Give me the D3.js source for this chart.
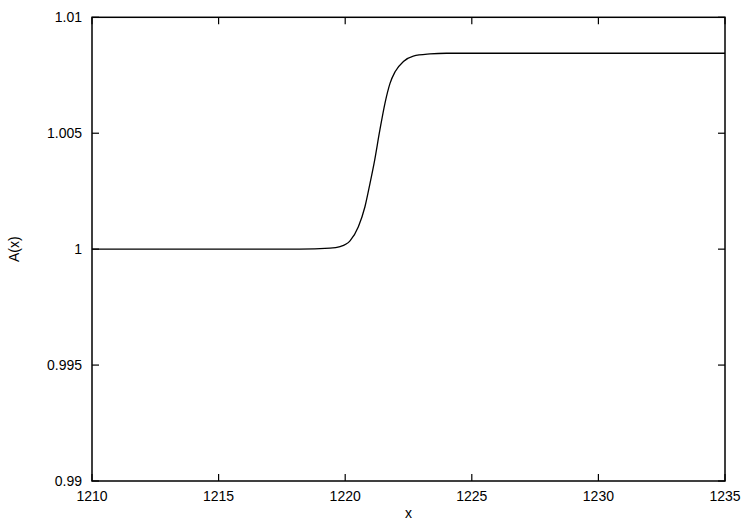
<!DOCTYPE html>
<html>
<head>
<meta charset="utf-8">
<script src="https://cdn.jsdelivr.net/npm/d3@7"></script>
<style>
html,body{margin:0;padding:0;background:#fff;}
svg{display:block;}
text{font-family:"Liberation Sans",Arial,Helvetica,sans-serif;font-size:14px;fill:#000;}
</style>
</head>
<body>
<svg id="chart" width="750" height="525"></svg>
<script>
// Data
const xValues = [1210, 1215, 1218.2, 1219.4, 1219.8, 1220.19, 1220.52, 1220.78, 1220.98, 1221.14, 1221.37, 1221.57, 1221.77, 1221.97, 1222.3, 1222.69, 1223.35, 1224, 1230, 1235];
const yValues = [1.0, 1.0, 1.0, 1.00004, 1.00011, 1.00036, 1.00097, 1.00183, 1.00284, 1.0037, 1.00514, 1.00629, 1.00715, 1.00765, 1.00809, 1.00833, 1.00842, 1.00845, 1.00845, 1.00845];
const xTicks = [1210, 1215, 1220, 1225, 1230, 1235];
const yTicks = [0.99, 0.995, 1.0, 1.005, 1.01];
const yTickLabels = ["0.99", "0.995", "1", "1.005", "1.01"];
const xLabel = "x";
const yLabel = "A(x)";

const svg = d3.select("#chart");
const L = 92, R = 725, T = 17.3, B = 481;
const x = d3.scaleLinear().domain([1210, 1235]).range([L, R]);
const y = d3.scaleLinear().domain([0.99, 1.01]).range([B, T]);
const tickLen = 7;

// ticks (inward, mirrored)
const g = svg.append("g").attr("stroke", "#000").attr("stroke-width", 1.2);
xTicks.forEach(t => {
  g.append("line").attr("x1", x(t)).attr("x2", x(t)).attr("y1", B).attr("y2", B - tickLen);
  g.append("line").attr("x1", x(t)).attr("x2", x(t)).attr("y1", T).attr("y2", T + tickLen);
});
yTicks.forEach(t => {
  g.append("line").attr("x1", L).attr("x2", L + tickLen).attr("y1", y(t)).attr("y2", y(t));
  g.append("line").attr("x1", R).attr("x2", R - tickLen).attr("y1", y(t)).attr("y2", y(t));
});

// tick labels
xTicks.forEach(t => {
  svg.append("text").attr("x", x(t)).attr("y", B + 20).attr("text-anchor", "middle").text(String(t));
});
yTicks.forEach((t, i) => {
  svg.append("text").attr("x", L - 10).attr("y", y(t) + 5).attr("text-anchor", "end").text(yTickLabels[i]);
});

// curve
const line = d3.line().x((d, i) => x(xValues[i])).y((d, i) => y(yValues[i])).curve(d3.curveMonotoneX);
svg.append("path").datum(yValues).attr("d", line).attr("fill", "none").attr("stroke", "#000").attr("stroke-width", 1.3);

// frame
svg.append("rect").attr("x", L).attr("y", T).attr("width", R - L).attr("height", B - T)
  .attr("fill", "none").attr("stroke", "#000").attr("stroke-width", 1.5);

// axis labels
svg.append("text").attr("x", (L + R) / 2).attr("y", 518).attr("text-anchor", "middle").text(xLabel);
svg.append("text").attr("transform", "translate(19," + ((T + B) / 2) + ") rotate(-90)")
  .attr("text-anchor", "middle").text(yLabel);
</script>
</body>
</html>
